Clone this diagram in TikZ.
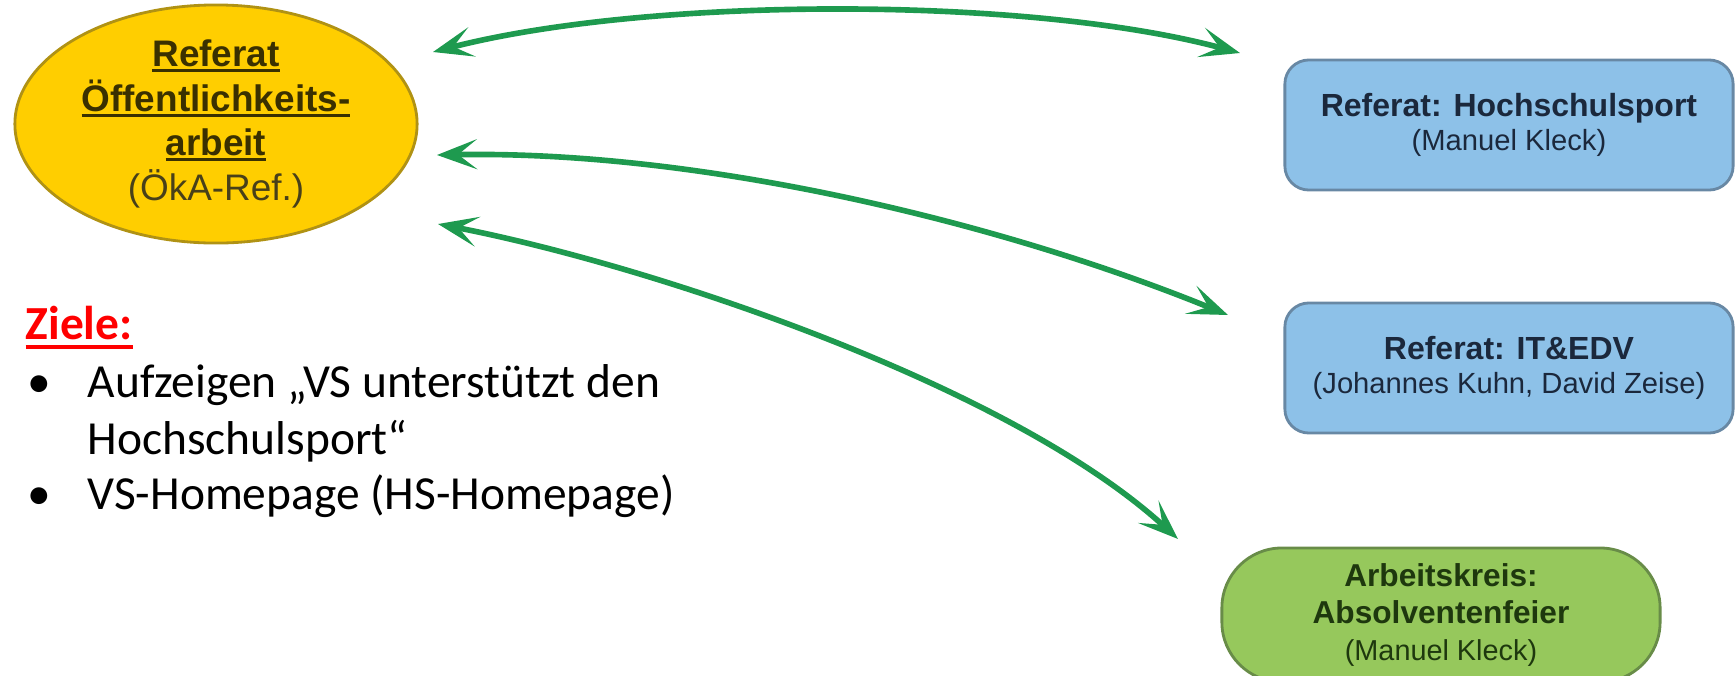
\documentclass[tikz,border=0pt]{standalone}
\usepackage{fontspec}
\setmainfont{Carlito}
\newfontfamily\arialf{Liberation Sans}
\usetikzlibrary{arrows.meta,shapes.geometric}

% Unterstreichung: #1 Tiefe, #2 Dicke, #3 Text
\newcommand{\ustrich}[3]{\setbox0\hbox{#3}\rlap{\rule[-#1]{\wd0}{#2}}\box0}

\definecolor{goldgelb}{RGB}{255,206,0}
\definecolor{goldrand}{RGB}{176,146,20}
\definecolor{goldtext}{RGB}{58,48,0}
\definecolor{hellblau}{RGB}{141,193,232}
\definecolor{blaurand}{RGB}{104,136,164}
\definecolor{blautext}{RGB}{27,40,60}
\definecolor{hellgruen}{RGB}{150,200,92}
\definecolor{gruenrand}{RGB}{104,140,72}
\definecolor{gruentext}{RGB}{30,56,14}
\definecolor{pfeilgruen}{RGB}{30,154,79}

\tikzset{
  oeka/.style={ellipse, draw=goldrand, fill=goldgelb, line width=0.8pt,
    minimum width=4.02cm, minimum height=2.29cm, inner sep=0pt, align=center,
    text=goldtext, font=\arialf\fontsize{10.5pt}{12.7pt}\selectfont},
  refbox/.style={rectangle, rounded corners=0.24cm, draw=blaurand, fill=hellblau,
    line width=0.8pt, minimum width=4.48cm, minimum height=1.3cm, align=center,
    text=blautext, font=\arialf\fontsize{9.1pt}{9.6pt}\selectfont},
  akbox/.style={rectangle, rounded corners=0.6cm, draw=gruenrand, fill=hellgruen,
    line width=0.8pt, minimum width=4.38cm, minimum height=1.34cm, align=center,
    text=gruentext, font=\arialf\fontsize{9pt}{10.5pt}\selectfont},
  spitze/.tip={Stealth[length=0.4cm,width=0.3cm,inset=0.19cm]},
  pfeil/.style={spitze-spitze, line width=1.6pt, draw=pfeilgruen},
  aufz/.style={anchor=base west, inner sep=0pt, font=\fontsize{13.5pt}{16pt}\selectfont}
}

\begin{document}
\begin{tikzpicture}[x=0.01cm, y=-0.01cm]
    \useasboundingbox (0,0) rectangle (1735,675);

    % Referat Oeffentlichkeitsarbeit
    \node[oeka] (oeka) at (216,124) {\textbf{\ustrich{1.5pt}{0.8pt}{Referat}}\\ \textbf{\ustrich{1.5pt}{0.8pt}{Öffentlichkeits-}}\\ \textbf{\ustrich{1.5pt}{0.8pt}{arbeit}}\\ \textcolor{goldtext!80!gray}{(ÖkA-Ref.)}};

    % Referate und Arbeitskreis
    \node[refbox] (hsport) at (1509,125) {\textbf{Referat: Hochschulsport}\\ {\fontsize{8.3pt}{9.6pt}\selectfont (Manuel Kleck)}};
    \node[refbox] (itedv) at (1509,368) {\textbf{Referat: IT\&EDV}\\ {\fontsize{8.3pt}{9.6pt}\selectfont (Johannes Kuhn, David Zeise)}};
    \node[akbox] (absolv) at (1441,615) {\textbf{Arbeitskreis:}\\ \textbf{Absolventenfeier}\\ {\fontsize{8.2pt}{10.5pt}\selectfont (Manuel Kleck)}};

    % Enden der Pfeile
    \coordinate (p1a) at (433,52);  \coordinate (p1b) at (1240,53);
    \coordinate (p2a) at (437,155); \coordinate (p2b) at (1228,315);
    \coordinate (p3a) at (438,224); \coordinate (p3b) at (1178,539);

    % Pfeile
    \draw[pfeil] (p1a) .. controls (650,-4) and (1030,-4) .. (p1b);
    \draw[pfeil] (p2a) .. controls (700,150) and (1000,222) .. (p2b);
    \draw[pfeil] (p3a) .. controls (650,265) and (1010,385) .. (p3b);

    % Ziele
    \node[aufz, text=red] (ziele) at (25,339) {\textbf{\ustrich{2.8pt}{1.1pt}{Ziele:}}};
    \node[aufz] (pkt1) at (27,397) {•};
    \node[aufz] (ziel1a) at (87,397) {Aufzeigen „VS unterstützt den};
    \node[aufz] (ziel1b) at (87,454) {Hochschulsport“};
    \node[aufz] (pkt2) at (27,509) {•};
    \node[aufz] (ziel2) at (87,509) {VS-Homepage (HS-Homepage)};
\end{tikzpicture}
\end{document}
